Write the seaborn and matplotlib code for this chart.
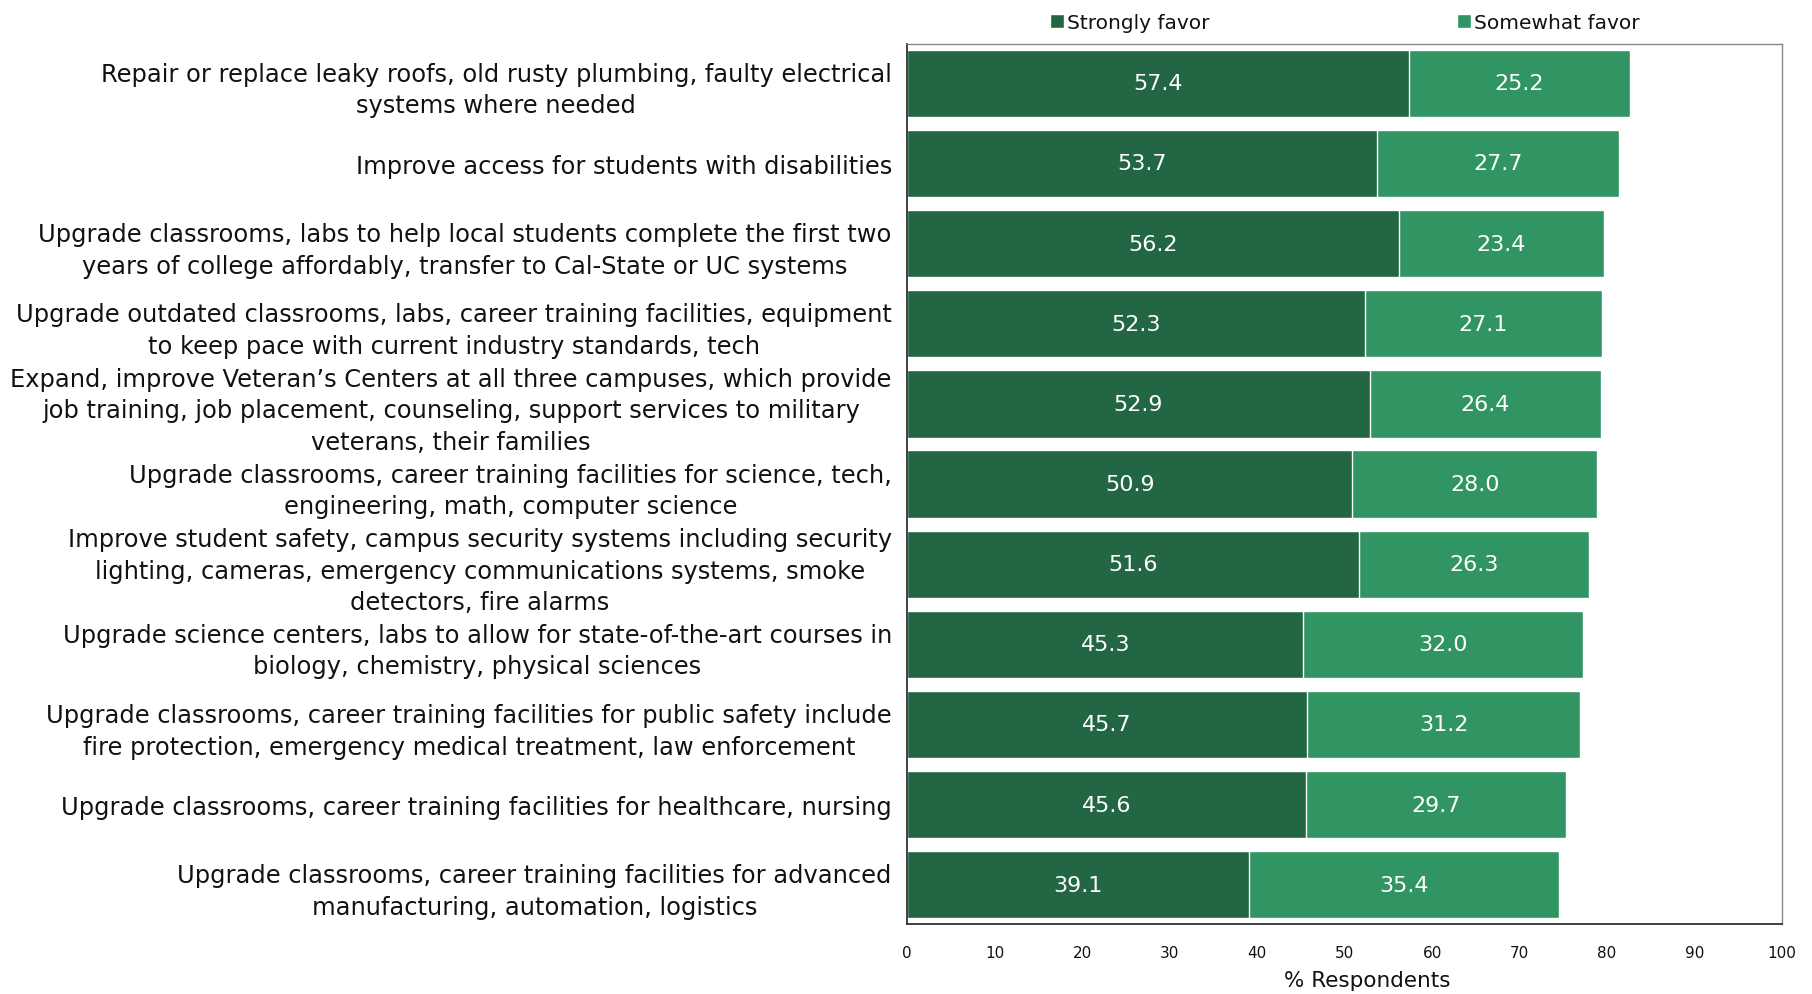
import matplotlib
matplotlib.use("Agg")
import matplotlib.pyplot as plt
import seaborn as sns
import pandas as pd
from matplotlib.patches import Patch

categories = [
    "Repair or replace leaky roofs, old rusty plumbing, faulty electrical\nsystems where needed",
    "Improve access for students with disabilities",
    "Upgrade classrooms, labs to help local students complete the first two\nyears of college affordably, transfer to Cal-State or UC systems",
    "Upgrade outdated classrooms, labs, career training facilities, equipment\nto keep pace with current industry standards, tech",
    "Expand, improve Veteran\u2019s Centers at all three campuses, which provide\njob training, job placement, counseling, support services to military\nveterans, their families",
    "Upgrade classrooms, career training facilities for science, tech,\nengineering, math, computer science",
    "Improve student safety, campus security systems including security\nlighting, cameras, emergency communications systems, smoke\ndetectors, fire alarms",
    "Upgrade science centers, labs to allow for state-of-the-art courses in\nbiology, chemistry, physical sciences",
    "Upgrade classrooms, career training facilities for public safety include\nfire protection, emergency medical treatment, law enforcement",
    "Upgrade classrooms, career training facilities for healthcare, nursing",
    "Upgrade classrooms, career training facilities for advanced\nmanufacturing, automation, logistics",
]
strongly_favor = [57.4, 53.7, 56.2, 52.3, 52.9, 50.9, 51.6, 45.3, 45.7, 45.6, 39.1]
somewhat_favor = [25.2, 27.7, 23.4, 27.1, 26.4, 28.0, 26.3, 32.0, 31.2, 29.7, 35.4]
x_ticks = [0, 10, 20, 30, 40, 50, 60, 70, 80, 90, 100]

dark_green = "#226644"
light_green = "#319463"

df = pd.DataFrame({
    "item": categories,
    "strong": strongly_favor,
    "somewhat": somewhat_favor,
})
df["total"] = df["strong"] + df["somewhat"]

sns.set_theme(style="white")
plt.rcParams["font.family"] = ["DejaVu Sans"]

fig = plt.figure(figsize=(18.12, 9.95), dpi=100)
ax = fig.add_axes([0.5006, 0.0703, 0.4829, 0.8844])

# stacked bars: full total in the lighter green, strong share over it
sns.barplot(data=df, y="item", x="total", color=light_green, saturation=1,
            width=0.84, ax=ax, orient="h")
sns.barplot(data=df, y="item", x="strong", color=dark_green, saturation=1,
            width=0.84, ax=ax, orient="h")

for i, (s, w) in enumerate(zip(df["strong"], df["somewhat"])):
    ax.text(s / 2, i, f"{s:.1f}", ha="center", va="center", color="white",
            fontsize=16)
    ax.text(s + w / 2, i, f"{w:.1f}", ha="center", va="center", color="white",
            fontsize=16)

ax.set_xlim(0, 100)
ax.set_ylim(len(categories) - 1 + 0.49, -0.49)
ax.set_xticks(x_ticks)
ax.set_xticklabels([str(t) for t in x_ticks], fontsize=11, color="#111111")
ax.set_xlabel("% Respondents", fontsize=15.5, color="#111111")
ax.xaxis.set_label_coords(0.526, -0.052)
ax.set_ylabel("")
ax.tick_params(axis="x", length=0, pad=15)
ax.tick_params(axis="y", length=0, pad=11)
for lbl in ax.get_yticklabels():
    lbl.set_fontsize(17.4)
    lbl.set_multialignment("center")
    lbl.set_linespacing(1.4)
    lbl.set_color("#111111")

for side in ["top", "right"]:
    ax.spines[side].set_visible(True)
    ax.spines[side].set_color("#888888")
    ax.spines[side].set_linewidth(1.0)
for side in ["left", "bottom"]:
    ax.spines[side].set_visible(True)
    ax.spines[side].set_color("#333333")
    ax.spines[side].set_linewidth(1.3)

handles = [Patch(facecolor=dark_green, label="Strongly favor"),
           Patch(facecolor=light_green, label="Somewhat favor")]
leg = ax.legend(handles=handles, loc="lower left", bbox_to_anchor=(0.163, 1.014),
                ncol=2, frameon=False, fontsize=14.5, handlelength=0.7,
                handleheight=0.7, handletextpad=0.15, columnspacing=12.3,
                borderaxespad=0.0, borderpad=0.0)
for t in leg.get_texts():
    t.set_color("#111111")

fig.savefig("out.png", dpi=100, facecolor="white")
